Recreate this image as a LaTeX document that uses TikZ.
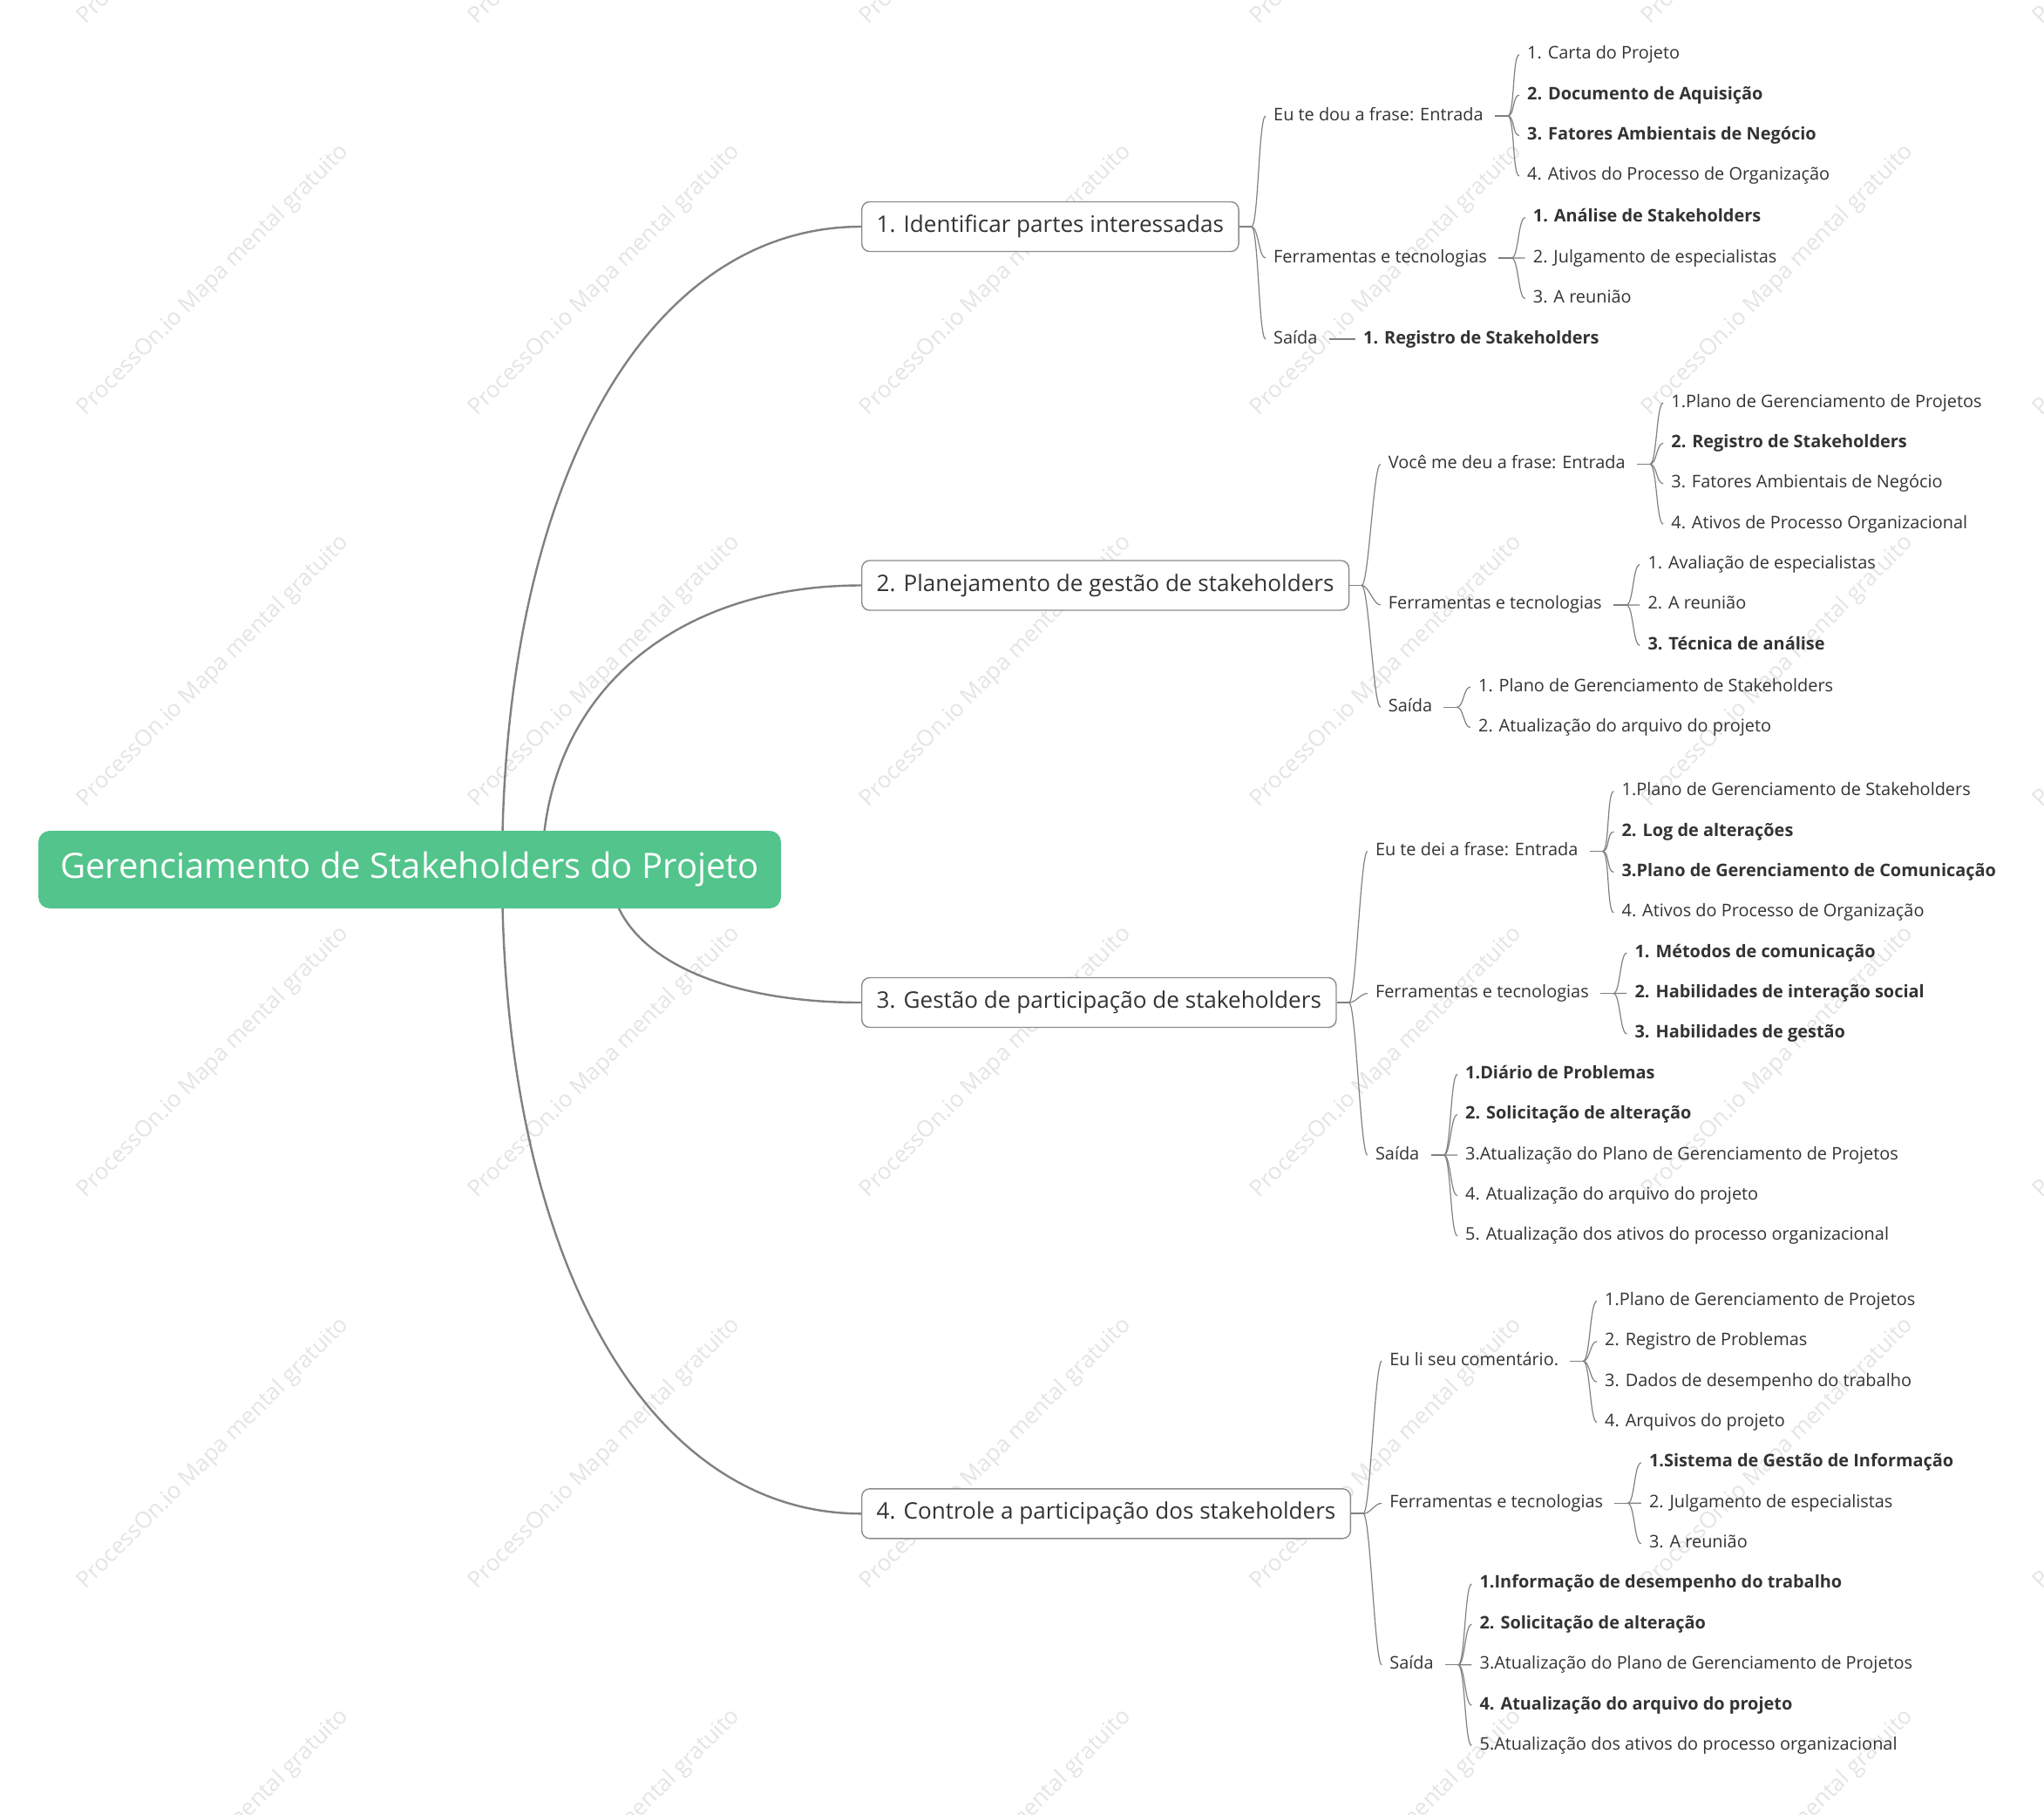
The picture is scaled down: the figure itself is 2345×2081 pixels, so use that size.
\documentclass[tikz,border=0pt]{standalone}
\usepackage{fontspec}
\setmainfont{Open Sans}
\usetikzlibrary{calc,backgrounds}

\definecolor{mmroot}{HTML}{52C48C}
\definecolor{mmline}{HTML}{808080}
\definecolor{mmedge}{HTML}{8C8C8C}
\definecolor{mmtext}{HTML}{333333}
\definecolor{mmmark}{HTML}{E4E4E4}

% curved limb from the root to a topic box
\newcommand{\limb}[2]{%
  \draw[mainlink] (#1)
    .. controls ($(#1)!0.6!(#1|-#2.west)$) and ($(#2.west)!0.6!(#1|-#2.west)$)
    .. (#2.west);
}
% small brace-like twig from a fork to a child text
\newcommand{\twig}[2]{%
  \draw[link] (#1) .. controls +(8,0) and +(-8,0) .. ($(#2.west)+(-9,0)$);
}
% stub + twigs from a sub text to its leaves #11..#1n
\newcommand{\fan}[2]{%
  \coordinate (#1f) at ($(#1.east)+(28,0)$);
  \draw[link] ($(#1.east)+(13,0)$) -- (#1f);
  \foreach \k in {1,...,#2} {\twig{#1f}{#1\k}}
}

\tikzset{
  mainlink/.style={draw=mmline, line width=2.4pt},
  link/.style={draw=mmline, line width=1.2pt},
  stub/.style={draw=mmline, line width=1.8pt},
  rootnode/.style={
    fill=mmroot,
    rounded corners=13pt,
    text=white,
    minimum width=852pt,
    minimum height=89pt,
    text height=29pt,
    text depth=9pt,
    font=\fontsize{40}{48}\selectfont
  },
  topic/.style={
    anchor=west,
    draw=mmedge,
    fill=white,
    line width=1.4pt,
    rounded corners=9pt,
    inner xsep=17pt,
    minimum height=57pt,
    text height=18.5pt,
    text depth=5.5pt,
    font=\fontsize{26.1}{31}\selectfont
  },
  sub/.style={
    anchor=west,
    inner sep=0pt,
    text height=14.5pt,
    text depth=4.5pt,
    font=\fontsize{19.9}{24}\selectfont
  },
  watermark/.style={
    rotate=45,
    inner sep=0pt,
    text=mmmark,
    font=\fontsize{26}{30}\selectfont
  }
}

\begin{document}
\begin{tikzpicture}[x=1pt, y=-1pt, text=mmtext]

  \useasboundingbox (0,0) rectangle (2345,2081);

  % --------------------------------------------------------------------
  % watermark grid
  % --------------------------------------------------------------------

  \begin{pgfonlayer}{background}
    \foreach \wx in {0,...,5}{
      \foreach \wy in {0,...,5}{
        \node[watermark] (wm-\wx-\wy) at ({245+448.7*\wx}, {-127.2+448.7*\wy})
          {ProcessOn.io Mapa mental gratuito};
      }
    }
  \end{pgfonlayer}

  % --------------------------------------------------------------------
  % root
  % --------------------------------------------------------------------

  \node[rootnode] (root) at (470,997.5) {Gerenciamento de Stakeholders do Projeto};

  \coordinate (r14) at ($(root.center)+(106,0)$);
  \coordinate (r2) at ($(root.center)+(152,0)$);
  \coordinate (r3) at ($(root.center)+(230,0)$);

  % --------------------------------------------------------------------
  % 1. Identificar partes interessadas
  % --------------------------------------------------------------------

  \node[topic] (t1) at (988,260) {1. Identificar partes interessadas};
  \node[sub] (t1a) at (1461,133) {Eu te dou a frase: Entrada};
  \node[sub] (t1b) at (1461,296) {Ferramentas e tecnologias};
  \node[sub] (t1c) at (1461,389) {Saída};

  \foreach \txt [count=\i] in {1. Carta do Projeto, \textbf{2. Documento de Aquisição},
      \textbf{3. Fatores Ambientais de Negócio}, 4. Ativos do Processo de Organização}
    \node[sub] (t1a\i) at (1752, 16.4+46.36*\i) {\txt};
  \foreach \txt [count=\i] in {\textbf{1. Análise de Stakeholders},
      2. Julgamento de especialistas, 3. A reunião}
    \node[sub] (t1b\i) at (1758.7, 203.3+46.36*\i) {\txt};
  \node[sub] (t1c1) at (1564,389) {\textbf{1. Registro de Stakeholders}};

  % --------------------------------------------------------------------
  % 2. Planejamento de gestão de stakeholders
  % --------------------------------------------------------------------

  \node[topic] (t2) at (988,671.5) {2. Planejamento de gestão de stakeholders};
  \node[sub] (t2a) at (1592.7,532.4) {Você me deu a frase: Entrada};
  \node[sub] (t2b) at (1592.7,693.9) {Ferramentas e tecnologias};
  \node[sub] (t2c) at (1592.7,811.3) {Saída};

  \foreach \txt [count=\i] in {1.Plano de Gerenciamento de Projetos,
      \textbf{2. Registro de Stakeholders}, 3. Fatores Ambientais de Negócio,
      4. Ativos de Processo Organizacional}
    \node[sub] (t2a\i) at (1917.2, 415.7+46.36*\i) {\txt};
  \foreach \txt [count=\i] in {1. Avaliação de especialistas, 2. A reunião,
      \textbf{3. Técnica de análise}}
    \node[sub] (t2b\i) at (1890.3, 601.2+46.36*\i) {\txt};
  \foreach \txt [count=\i] in {1. Plano de Gerenciamento de Stakeholders,
      2. Atualização do arquivo do projeto}
    \node[sub] (t2c\i) at (1695.9, 741.7+46.36*\i) {\txt};

  % --------------------------------------------------------------------
  % 3. Gestão de participação de stakeholders
  % --------------------------------------------------------------------

  \node[topic] (t3) at (988,1150) {3. Gestão de participação de stakeholders};
  \node[sub] (t3a) at (1577.8,976.6) {Eu te dei a frase: Entrada};
  \node[sub] (t3b) at (1577.8,1139.6) {Ferramentas e tecnologias};
  \node[sub] (t3c) at (1577.8,1325) {Saída};

  \foreach \txt [count=\i] in {1.Plano de Gerenciamento de Stakeholders,
      \textbf{2. Log de alterações}, \textbf{3.Plano de Gerenciamento de Comunicação},
      4. Ativos do Processo de Organização}
    \node[sub] (t3a\i) at (1860.4, 861.4+46.36*\i) {\txt};
  \foreach \txt [count=\i] in {\textbf{1. Métodos de comunicação},
      \textbf{2. Habilidades de interação social}, \textbf{3. Habilidades de gestão}}
    \node[sub] (t3b\i) at (1875.4, 1046.8+46.36*\i) {\txt};
  \foreach \txt [count=\i] in {\textbf{1.Diário de Problemas},
      \textbf{2. Solicitação de alteração},
      3.Atualização do Plano de Gerenciamento de Projetos,
      4. Atualização do arquivo do projeto,
      5. Atualização dos ativos do processo organizacional}
    \node[sub] (t3c\i) at (1681, 1185.9+46.36*\i) {\txt};

  % --------------------------------------------------------------------
  % 4. Controle a participação dos stakeholders
  % --------------------------------------------------------------------

  \node[topic] (t4) at (988,1736.3) {4. Controle a participação dos stakeholders};
  \node[sub] (t4a) at (1594.2,1561.3) {Eu li seu comentário.};
  \node[sub] (t4b) at (1594.2,1724.3) {Ferramentas e tecnologias};
  \node[sub] (t4c) at (1594.2,1909.8) {Saída};

  \foreach \txt [count=\i] in {1.Plano de Gerenciamento de Projetos,
      2. Registro de Problemas, 3. Dados de desempenho do trabalho,
      4. Arquivos do projeto}
    \node[sub] (t4a\i) at (1841, 1446.1+46.36*\i) {\txt};
  \foreach \txt [count=\i] in {\textbf{1.Sistema de Gestão de Informação},
      2. Julgamento de especialistas, 3. A reunião}
    \node[sub] (t4b\i) at (1891.8, 1631.6+46.36*\i) {\txt};
  \foreach \txt [count=\i] in {\textbf{1.Informação de desempenho do trabalho},
      \textbf{2. Solicitação de alteração},
      3.Atualização do Plano de Gerenciamento de Projetos,
      \textbf{4. Atualização do arquivo do projeto},
      5.Atualização dos ativos do processo organizacional}
    \node[sub] (t4c\i) at (1697.4, 1770.6+46.36*\i) {\txt};

  % --------------------------------------------------------------------
  % connectors
  % --------------------------------------------------------------------

  \begin{pgfonlayer}{background}
    \limb{r14}{t1}
    \limb{r2}{t2}
    \limb{r3}{t3}
    \limb{r14}{t4}
  \end{pgfonlayer}

  \foreach \t in {t1,t2,t3,t4}{
    \coordinate (\t f) at ($(\t.east)+(14,0)$);
    \draw[stub] (\t.east) -- (\t f);
    \foreach \s in {a,b,c} {\twig{\t f}{\t\s}}
  }

  \fan{t1a}{4}
  \fan{t1b}{3}
  \fan{t1c}{1}
  \fan{t2a}{4}
  \fan{t2b}{3}
  \fan{t2c}{2}
  \fan{t3a}{4}
  \fan{t3b}{3}
  \fan{t3c}{5}
  \fan{t4a}{4}
  \fan{t4b}{3}
  \fan{t4c}{5}

\end{tikzpicture}
\end{document}
